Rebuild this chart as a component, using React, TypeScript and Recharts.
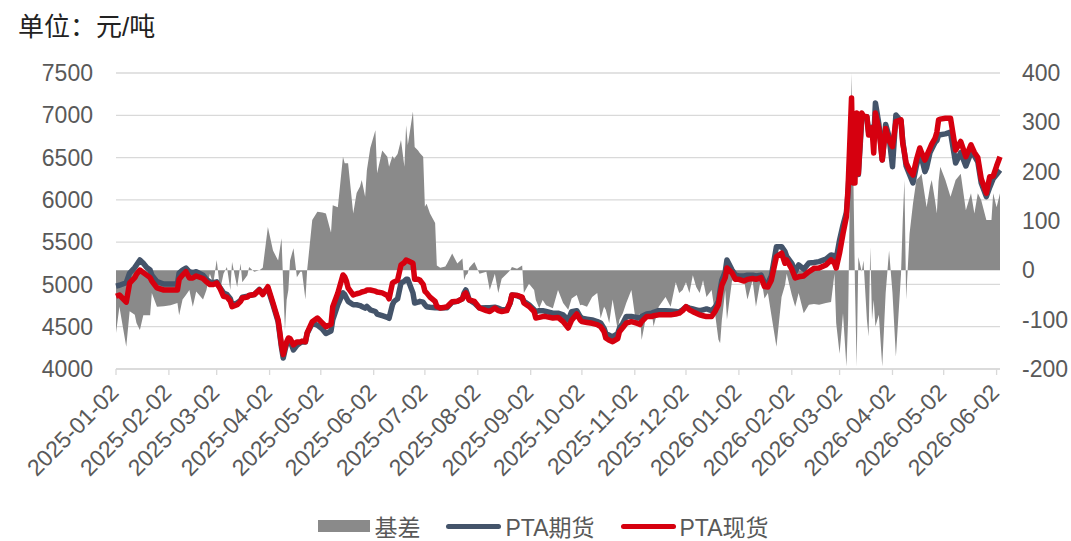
import React from 'react';
import { ComposedChart, Area, Line, XAxis, YAxis, CartesianGrid, Legend } from 'recharts';

// 交易日期
const dates = [
  '2025-01-02', '2025-01-04', '2025-01-08', '2025-01-10', '2025-01-13', '2025-01-14', '2025-01-16', '2025-01-18',
  '2025-01-20', '2025-01-22', '2025-01-23', '2025-01-26', '2025-01-30', '2025-02-03', '2025-02-07', '2025-02-08',
  '2025-02-10', '2025-02-12', '2025-02-14', '2025-02-16', '2025-02-18', '2025-02-22', '2025-02-24', '2025-02-26',
  '2025-02-28', '2025-03-02', '2025-03-04', '2025-03-06', '2025-03-08', '2025-03-10', '2025-03-11', '2025-03-14',
  '2025-03-16', '2025-03-17', '2025-03-20', '2025-03-21', '2025-03-24', '2025-03-27', '2025-03-29', '2025-04-01',
  '2025-04-04', '2025-04-07', '2025-04-09', '2025-04-10', '2025-04-11', '2025-04-12', '2025-04-13', '2025-04-14',
  '2025-04-16', '2025-04-18', '2025-04-20', '2025-04-21', '2025-04-23', '2025-04-24', '2025-04-27', '2025-04-30',
  '2025-05-03', '2025-05-05', '2025-05-08', '2025-05-09', '2025-05-12', '2025-05-15', '2025-05-16', '2025-05-17',
  '2025-05-18', '2025-05-21', '2025-05-23', '2025-05-25', '2025-05-26', '2025-05-28', '2025-05-29', '2025-05-31',
  '2025-06-03', '2025-06-04', '2025-06-07', '2025-06-10', '2025-06-11', '2025-06-13', '2025-06-14', '2025-06-16',
  '2025-06-18', '2025-06-20', '2025-06-21', '2025-06-22', '2025-06-25', '2025-06-26', '2025-06-28', '2025-06-29',
  '2025-07-01', '2025-07-02', '2025-07-03', '2025-07-05', '2025-07-08', '2025-07-09', '2025-07-11', '2025-07-14',
  '2025-07-15', '2025-07-18', '2025-07-21', '2025-07-24', '2025-07-25', '2025-07-26', '2025-07-27', '2025-07-28',
  '2025-07-31', '2025-08-03', '2025-08-07', '2025-08-09', '2025-08-12', '2025-08-14', '2025-08-16', '2025-08-19',
  '2025-08-21', '2025-08-22', '2025-08-25', '2025-08-28', '2025-08-29', '2025-09-01', '2025-09-04', '2025-09-05',
  '2025-09-07', '2025-09-09', '2025-09-11', '2025-09-15', '2025-09-18', '2025-09-21', '2025-09-24', '2025-09-26',
  '2025-09-29', '2025-10-01', '2025-10-02', '2025-10-05', '2025-10-08', '2025-10-11', '2025-10-13', '2025-10-15',
  '2025-10-16', '2025-10-18', '2025-10-20', '2025-10-23', '2025-10-24', '2025-10-26', '2025-10-28', '2025-10-31',
  '2025-11-03', '2025-11-05', '2025-11-06', '2025-11-09', '2025-11-12', '2025-11-13', '2025-11-16', '2025-11-20',
  '2025-11-23', '2025-11-26', '2025-11-28', '2025-11-30', '2025-12-02', '2025-12-04', '2025-12-06', '2025-12-08',
  '2025-12-10', '2025-12-12', '2025-12-14', '2025-12-17', '2025-12-19', '2025-12-21', '2025-12-22', '2025-12-23',
  '2025-12-25', '2025-12-26', '2025-12-29', '2025-12-31', '2026-01-02', '2026-01-05', '2026-01-07', '2026-01-10',
  '2026-01-12', '2026-01-15', '2026-01-17', '2026-01-19', '2026-01-21', '2026-01-24', '2026-01-27', '2026-01-29',
  '2026-01-30', '2026-02-02', '2026-02-04', '2026-02-06', '2026-02-09', '2026-02-12', '2026-02-15', '2026-02-18',
  '2026-02-22', '2026-02-25', '2026-02-27', '2026-02-28', '2026-03-02', '2026-03-04', '2026-03-06', '2026-03-07',
  '2026-03-09', '2026-03-10', '2026-03-11', '2026-03-12', '2026-03-13', '2026-03-15', '2026-03-16', '2026-03-18',
  '2026-03-19', '2026-03-20', '2026-03-21', '2026-03-22', '2026-03-23', '2026-03-25', '2026-03-27', '2026-03-29',
  '2026-03-31', '2026-04-02', '2026-04-04', '2026-04-07', '2026-04-08', '2026-04-09', '2026-04-10', '2026-04-12',
  '2026-04-14', '2026-04-16', '2026-04-18', '2026-04-19', '2026-04-21', '2026-04-22', '2026-04-24', '2026-04-25',
  '2026-04-27', '2026-04-28', '2026-04-29', '2026-04-30', '2026-05-03', '2026-05-06', '2026-05-09', '2026-05-12',
  '2026-05-15', '2026-05-18', '2026-05-20', '2026-05-22', '2026-05-24', '2026-05-27', '2026-05-29', '2026-05-30',
  '2026-05-31', '2026-06-02', '2026-06-04',
];

// PTA期货 (元/吨)
const futures = [
  4980, 4990, 5020, 5135, 5200, 5230, 5289, 5250, 5200, 5170, 5110, 5033, 5005, 5005, 5005, 5135,
  5170, 5194, 5150, 5140, 5150, 5110, 5060, 5030, 5020, 5030, 4960, 4900, 4880, 4830, 4760, 4780,
  4810, 4850, 4860, 4870, 4880, 4940, 4900, 4950, 4760, 4560, 4250, 4130, 4220, 4300, 4340, 4330,
  4225, 4280, 4310, 4320, 4320, 4420, 4540, 4520, 4470, 4420, 4450, 4580, 4760, 4900, 4880, 4840,
  4800, 4760, 4760, 4750, 4740, 4720, 4740, 4700, 4680, 4650, 4630, 4610, 4600, 4760, 4800, 4830,
  5017, 5040, 5060, 5060, 4900, 4780, 4790, 4800, 4790, 4760, 4737, 4730, 4725, 4725, 4721, 4725,
  4725, 4790, 4800, 4830, 4900, 4934, 4880, 4816, 4780, 4721, 4725, 4725, 4730, 4720, 4700, 4700,
  4780, 4875, 4870, 4840, 4800, 4760, 4700, 4678, 4690, 4690, 4680, 4660, 4660, 4640, 4580, 4678,
  4690, 4620, 4600, 4590, 4580, 4560, 4543, 4480, 4420, 4400, 4380, 4420, 4480, 4540, 4620, 4620,
  4610, 4600, 4620, 4650, 4660, 4670, 4690, 4690, 4685, 4680, 4675, 4700, 4737, 4720, 4710, 4700,
  4690, 4700, 4710, 4690, 4730, 4800, 4934, 5050, 5150, 5289, 5170, 5110, 5100, 5100, 5110, 5110,
  5100, 5110, 5020, 5010, 5100, 5447, 5447, 5388, 5330, 5250, 5150, 5230, 5180, 5253, 5260, 5270,
  5300, 5348, 5340, 5300, 5525, 5700, 5850, 6100, 6800, 6250, 6300, 6950, 6300, 6950, 6980, 6984,
  6800, 6820, 6860, 6700, 7145, 6900, 6471, 6890, 6750, 6392, 7003, 6930, 6700, 6550, 6400, 6300,
  6200, 6400, 6560, 6500, 6333, 6380, 6560, 6600, 6680, 6700, 6767, 6770, 6780, 6800, 6436, 6560,
  6400, 6560, 6520, 6450, 6200, 6038, 6150, 6200, 6250, 6300, 6353,
];

// PTA现货 (元/吨)
const spot = [
  4860, 4875, 4790, 5017, 5080, 5120, 5170, 5140, 5110, 5080, 5040, 4958, 4934, 4934, 4934, 5060,
  5110, 5150, 5076, 5076, 5100, 5070, 5030, 5000, 5000, 5017, 4950, 4860, 4850, 4800, 4737, 4760,
  4800, 4840, 4850, 4870, 4880, 4934, 4880, 4973, 4780, 4580, 4280, 4170, 4250, 4320, 4367, 4360,
  4285, 4320, 4320, 4330, 4323, 4426, 4560, 4603, 4543, 4500, 4530, 4737, 4900, 5112, 5090, 5040,
  4960, 4875, 4890, 4900, 4910, 4920, 4934, 4934, 4920, 4910, 4900, 4870, 4830, 5017, 5030, 5050,
  5230, 5260, 5289, 5280, 5250, 5060, 5060, 5052, 5000, 4920, 4900, 4850, 4800, 4740, 4721, 4730,
  4737, 4796, 4800, 4830, 4880, 4900, 4850, 4816, 4800, 4721, 4690, 4680, 4721, 4690, 4680, 4690,
  4790, 4875, 4870, 4850, 4780, 4740, 4680, 4603, 4610, 4620, 4620, 4603, 4610, 4560, 4485, 4577,
  4650, 4580, 4560, 4550, 4540, 4525, 4500, 4440, 4367, 4340, 4323, 4360, 4441, 4490, 4543, 4560,
  4543, 4525, 4560, 4620, 4620, 4630, 4640, 4640, 4640, 4650, 4660, 4690, 4737, 4700, 4678, 4660,
  4640, 4630, 4620, 4620, 4680, 4760, 4880, 4990, 5080, 5194, 5135, 5060, 5060, 5040, 5060, 5070,
  5060, 5080, 4975, 4970, 5050, 5328, 5370, 5250, 5289, 5180, 5076, 5090, 5100, 5150, 5190, 5194,
  5230, 5289, 5250, 5194, 5372, 5600, 5801, 6156, 7204, 6200, 6200, 7027, 6310, 7027, 6990, 6984,
  6767, 6800, 6850, 6554, 7027, 6845, 6471, 6845, 6700, 6629, 6924, 6945, 6670, 6560, 6436, 6350,
  6294, 6471, 6613, 6560, 6471, 6520, 6613, 6660, 6731, 6800, 6944, 6955, 6965, 6965, 6590, 6690,
  6510, 6650, 6560, 6500, 6250, 6080, 6274, 6274, 6280, 6400, 6510,
];

// 基差 (元/吨)
const basis = [
  -127, -74, -155, -83, -90, -107, -121, -91, -91, -91, -46, -74, -73, -71, -66, -91,
  -59, -50, -40, -74, -43, -59, -40, -7, -27, 21, -40, -7, 7, -40, 17, -34,
  14, -24, -10, 7, -3, 0, 5, 88, 40, 20, 65, -30, -121, -60, -40, 20,
  45, -14, -3, -3, -59, 0, 102, 119, 117, 115, 76, 132, 128, 230, 217, 217,
  217, 115, 157, 170, 183, 149, 203, 248, 284, 197, 243, 230, 210, 232, 226, 236,
  264, 210, 294, 254, 322, 250, 243, 238, 230, 129, 135, 115, 96, 10, 5, 8,
  14, 34, 14, 24, -20, -10, -7, 5, 17, -7, -3, -40, -7, -46, -17, -7,
  0, 7, 3, 10, -46, -27, -40, -60, -77, -60, -71, -77, -40, -66, -80, -57,
  -50, -71, -70, -74, -54, -46, -97, -74, -80, -107, -59, -121, -100, -87, -66, -40,
  -114, -87, -141, -87, -87, -114, -74, -54, -74, -24, -46, -40, -24, -46, -10, -34,
  -46, -20, -54, -40, -87, -140, -148, -101, -40, -100, -20, -24, -14, -20, -59, -20,
  -74, -14, -57, -46, -90, -155, -54, -30, -7, -50, -74, -46, -87, -70, -68, -70,
  -66, -64, -7, -107, -169, -87, -195, -100, 400, 210, -30, -195, 27, -3, 20, -100,
  -134, 47, -100, -60, -114, -90, -195, -46, 40, -46, -175, -7, 100, 183, -59, 74,
  135, 183, 190, 196, 150, 128, 170, 183, 140, 115, 180, 210, 183, 149, 183, 196,
  122, 156, 115, 156, 142, 102, 102, 102, 156, 128, 156,
];

const tickLabels = [
  '2025-01-02', '2025-02-02', '2025-03-02', '2025-04-02', '2025-05-02', '2025-06-02',
  '2025-07-02', '2025-08-02', '2025-09-02', '2025-10-02', '2025-11-02', '2025-12-02',
  '2026-01-02', '2026-02-02', '2026-03-02', '2026-04-02', '2026-05-02', '2026-06-02',
];
const leftTicks = [4000, 4500, 5000, 5500, 6000, 6500, 7000, 7500];
const rightTicks = [-200, -100, 0, 100, 200, 300, 400];

const toTs = (s: string) => Date.parse(s);

const data = dates.map((d, i) => ({
  t: toTs(d),
  basis: basis[i],
  futures: futures[i],
  spot: spot[i],
}));

const FONT = '"Liberation Sans", Arial, "Noto Sans CJK SC", sans-serif';
const GRAY_TEXT = '#595959';
const BASIS_COLOR = '#8a8a8a';
const FUTURES_COLOR = '#44546a';
const SPOT_COLOR = '#d6000f';

const DateTick = (props: any) => {
  const { x, y, payload } = props;
  const label = new Date(payload.value).toISOString().slice(0, 10);
  return (
    <g transform={`translate(${x + 4},${y + 17})`}>
      <text textAnchor='end' transform='rotate(-45)' fill={GRAY_TEXT} fontSize={23}>
        {label}
      </text>
    </g>
  );
};

const legendItems = [
  { name: '基差', color: BASIS_COLOR, kind: 'rect' },
  { name: 'PTA期货', color: FUTURES_COLOR, kind: 'line' },
  { name: 'PTA现货', color: SPOT_COLOR, kind: 'line' },
];

const ChartLegend = () => (
  <div
    style={{
      height: 30,
      display: 'flex',
      justifyContent: 'center',
      alignItems: 'center',
      paddingLeft: 16,
      fontSize: 23,
      color: GRAY_TEXT,
      fontFamily: FONT,
    }}
  >
    {legendItems.map((item, i) => (
      <div key={item.name} style={{ display: 'flex', alignItems: 'center', marginLeft: i === 0 ? 0 : 26 }}>
        {item.kind === 'rect' ? (
          <div style={{ width: 52, height: 12, background: item.color }} />
        ) : (
          <div style={{ width: 55, height: 5, borderRadius: 3, background: item.color }} />
        )}
        <span style={{ marginLeft: 4 }}>{item.name}</span>
      </div>
    ))}
  </div>
);

const App: React.FC = () => {
  return (
    <div style={{ position: 'absolute', left: 0, top: 0, width: 1071, height: 541, fontFamily: FONT, background: '#fff' }}>
      <div style={{ position: 'absolute', left: 18, top: 6, fontSize: 26, color: '#222' }}>单位：元/吨</div>
      <ComposedChart width={1071} height={541} data={data} margin={{ top: 73, right: 0, bottom: 0, left: 0 }}>
        <CartesianGrid yAxisId='left' vertical={false} stroke='#d9d9d9' strokeWidth={1.3} />
        <XAxis
          dataKey='t'
          type='number'
          domain={[toTs('2025-01-02'), toTs('2026-06-04')]}
          ticks={tickLabels.map(toTs)}
          interval={0}
          height={142}
          axisLine={{ stroke: '#d9d9d9', strokeWidth: 1.3 }}
          tickLine={{ stroke: '#d9d9d9', strokeWidth: 1.3 }}
          tick={<DateTick />}
        />
        <YAxis
          yAxisId='left'
          width={116}
          domain={[4000, 7500]}
          ticks={leftTicks}
          interval={0}
          axisLine={false}
          tickLine={false}
          tickMargin={17}
          tick={{ fill: GRAY_TEXT, fontSize: 23 }}
        />
        <YAxis
          yAxisId='right'
          orientation='right'
          width={71}
          domain={[-200, 400]}
          ticks={rightTicks}
          interval={0}
          axisLine={false}
          tickLine={false}
          tickMargin={16}
          tick={{ fill: GRAY_TEXT, fontSize: 23, textAnchor: 'start' }}
        />
        <Legend verticalAlign='bottom' height={30} content={() => <ChartLegend />} />
        <Area
          yAxisId='right'
          dataKey='basis'
          name='基差'
          type='linear'
          stroke='none'
          fill={BASIS_COLOR}
          fillOpacity={1}
          baseValue={0}
          dot={false}
          activeDot={false}
          isAnimationActive={false}
        />
        <Line
          yAxisId='left'
          dataKey='futures'
          name='PTA期货'
          type='linear'
          stroke={FUTURES_COLOR}
          strokeWidth={5.5}
          strokeLinejoin='round'
          dot={false}
          activeDot={false}
          isAnimationActive={false}
        />
        <Line
          yAxisId='left'
          dataKey='spot'
          name='PTA现货'
          type='linear'
          stroke={SPOT_COLOR}
          strokeWidth={5.5}
          strokeLinejoin='round'
          dot={false}
          activeDot={false}
          isAnimationActive={false}
        />
      </ComposedChart>
    </div>
  );
};

export default App;
